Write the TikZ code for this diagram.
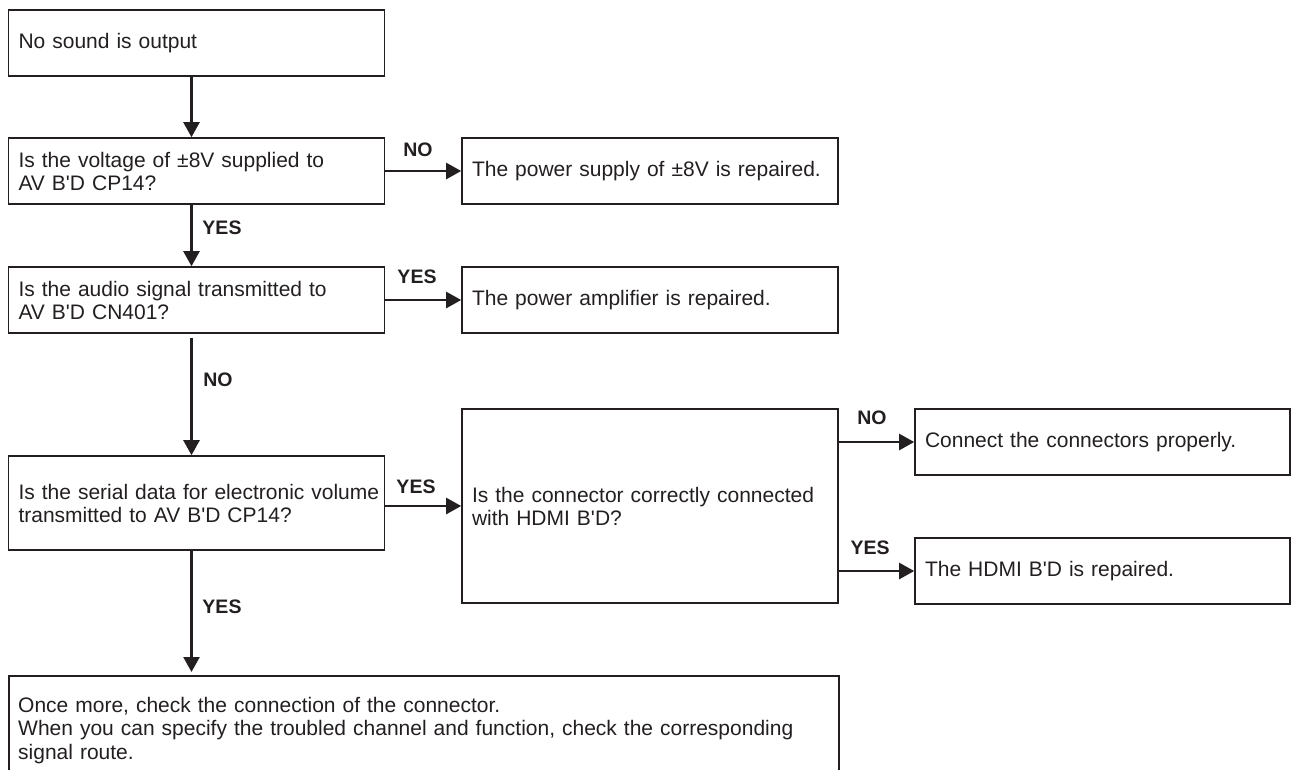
\documentclass[tikz,border=0pt]{standalone}
\usepackage{fontspec}
\setmainfont{Liberation Sans}[Ligatures=TeXOff]
\usetikzlibrary{arrows.meta}
\definecolor{ink}{HTML}{231F20}
\begin{document}
\begin{tikzpicture}[x=1pt,y=-1pt,
  box/.style={draw=ink,line width=1.6pt,rectangle,inner xsep=10pt,inner ysep=0pt,
    minimum height=66pt,text width=#1,align=left,text=ink,
    font=\fontsize{21}{23}\selectfont},
  box/.default=356pt,
  conn/.style={draw=ink,line width=2.4pt,-{Triangle[length=15pt,width=16pt]}},
  lab/.style={text=ink,font=\fontsize{19.5}{22}\selectfont\bfseries,inner sep=0pt}]
\useasboundingbox (0,0) rectangle (1293,769);
% boxes
\node[box] (b1) at (196.5,43) {No sound is output};
\node[box] (b2) at (196.5,171) {Is the voltage of \textpm8V supplied to\\AV B'D CP14?};
\node[box] (r1) at (650,171) {The power supply of \textpm8V is repaired.};
\node[box] (b3) at (196.5,300) {Is the audio signal transmitted to\\AV B'D CN401?};
\node[box] (r2) at (650,300) {The power amplifier is repaired.};
\node[box,minimum height=94pt] (b4) at (196.5,503) {\mbox{Is the serial data for electronic volume}\\transmitted to AV B'D CP14?};
\node[box,minimum height=194pt] (hd) at (650,506) {Is the connector correctly connected\\with HDMI B'D?};
\node[box=355pt] (r3) at (1102.5,442) {Connect the connectors properly.};
\node[box=355pt] (r4) at (1102.5,571) {The HDMI B'D is repaired.};
\node[draw=ink,line width=1.6pt,rectangle,minimum width=830pt,minimum height=110pt,anchor=north west,inner sep=0pt] (b5) at (8,675) {};
\node[anchor=north west,text width=820pt,align=left,inner sep=0pt,text=ink,font=\fontsize{21}{23.5}\selectfont] (t5) at (18,697)
  {Once more, check the connection of the connector.\\When you can specify the troubled channel and function, check the corresponding\\signal route.};
% connectors
\draw[conn] ([xshift=-5pt]b1.south) -- ([xshift=-5pt]b2.north);
\draw[conn] ([xshift=-5pt]b2.south) -- ([xshift=-5pt]b3.north);
\draw[conn,shorten <=4pt] ([xshift=-5pt]b3.south) -- ([xshift=-5pt]b4.north);
\draw[conn,shorten >=3pt] ([xshift=-5pt]b4.south) -- ([xshift=-5pt]b4.south |- b5.north);
\draw[conn] (b2.east) -- (r1.west);
\draw[conn] (b3.east) -- (r2.west);
\draw[conn] (b4.east |- hd.west) -- (hd.west);
\draw[conn] (hd.east |- r3.west) -- (r3.west);
\draw[conn] (hd.east |- r4.west) -- (r4.west);
% labels
\node[lab] (l1) at (418,150) {NO};
\node[lab] (l2) at (222,228) {YES};
\node[lab] (l3) at (417,277) {YES};
\node[lab] (l4) at (218,380) {NO};
\node[lab] (l5) at (416,487) {YES};
\node[lab] (l6) at (872,418) {NO};
\node[lab] (l7) at (870,548) {YES};
\node[lab] (l8) at (222,607) {YES};
\end{tikzpicture}
\end{document}
